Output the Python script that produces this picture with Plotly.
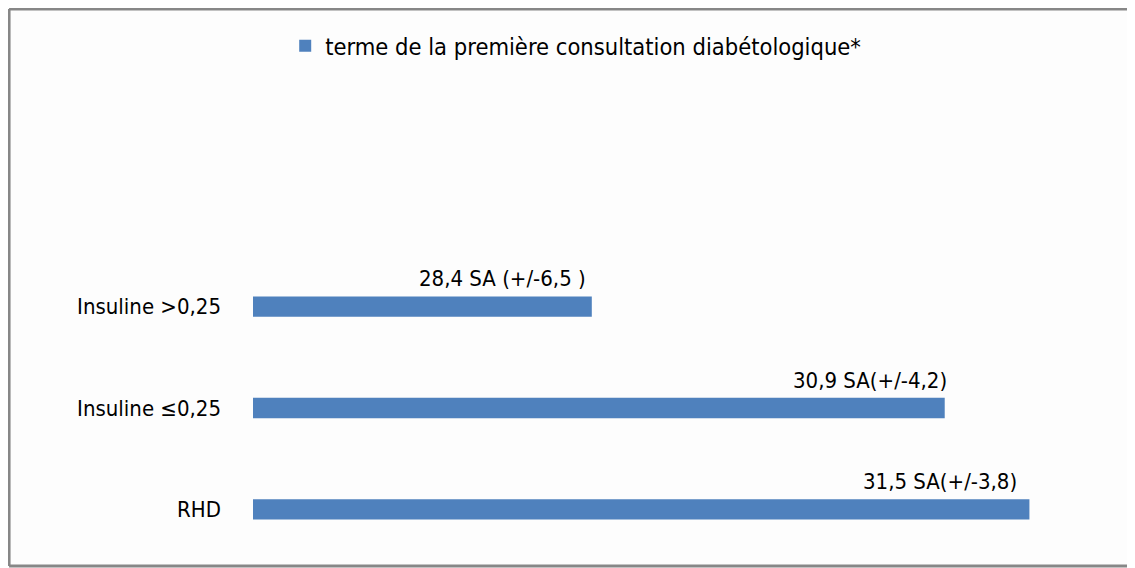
import plotly.graph_objects as go

# data, top to bottom as shown in the chart
categories = ["Insuline >0,25", "Insuline ≤0,25", "RHD"]
terme_sa = [28.4, 30.9, 31.5]
labels = ["28,4 SA (+/-6,5 )", "30,9 SA(+/-4,2)", "31,5 SA(+/-3,8)"]
series_name = "terme de la première consultation diabétologique*"

bar_color = "#4F81BD"
font_family = "DejaVu Sans Condensed, DejaVu Sans, sans-serif"

fig = go.Figure()

fig.add_trace(go.Bar(
    x=terme_sa,
    y=categories,
    orientation="h",
    name=series_name,
    marker=dict(color=bar_color, line=dict(width=0)),
    width=0.2,
    showlegend=True,
))

# value labels sit above the right end of each bar
label_xshift = [-4, 4, -10]
for val, cat, txt, dx in zip(terme_sa, categories, labels, label_xshift):
    fig.add_annotation(
        x=val, y=cat, text=txt,
        xanchor="right", yanchor="middle",
        xshift=dx, yshift=28,
        showarrow=False,
        font=dict(family=font_family, size=22, color="#000000"),
    )

# outer chart frame: left, top and bottom edges (right edge is off-page)
frame = dict(color="#878787", width=3)
x_left, x_right = -0.288, 1.25
y_bot, y_top = -0.0197, 1.8125
fig.add_shape(type="line", xref="paper", yref="paper",
              x0=x_left, x1=x_left, y0=y_bot, y1=y_top, line=frame)
fig.add_shape(type="line", xref="paper", yref="paper",
              x0=x_left, x1=x_right, y0=y_top, y1=y_top, line=frame)
fig.add_shape(type="line", xref="paper", yref="paper",
              x0=x_left, x1=x_right, y0=y_bot, y1=y_bot, line=frame)

# page has an 8px body margin, so the figure is 8px smaller than the window
fig.update_layout(
    width=1127, height=560,
    margin=dict(l=245, r=35, t=248, b=8),
    paper_bgcolor="#FDFDFD",
    plot_bgcolor="#FDFDFD",
    font=dict(family=font_family, size=22, color="#000000"),
    legend=dict(
        orientation="h",
        x=0.381, xanchor="center",
        y=1.691, yanchor="middle",
        font=dict(family=font_family, size=23.5, color="#000000"),
        bgcolor="rgba(0,0,0,0)",
        itemwidth=30,
    ),
    xaxis=dict(
        range=[26, 32],
        visible=False,
        showgrid=False,
        zeroline=False,
    ),
    yaxis=dict(
        type="category",
        categoryorder="array",
        categoryarray=categories,
        range=[2.5, -0.5],
        showgrid=False,
        zeroline=False,
        showline=False,
        ticks="",
        ticklabelstandoff=31,
        tickfont=dict(family=font_family, size=22, color="#000000"),
    ),
)

fig.write_html("out.html")
